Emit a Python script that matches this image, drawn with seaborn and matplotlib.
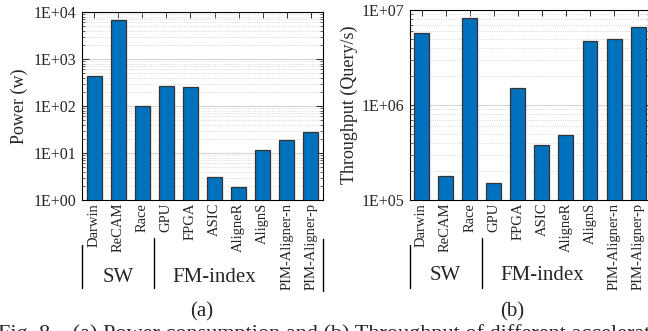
import matplotlib
matplotlib.use("Agg")
import matplotlib.pyplot as plt
import matplotlib.transforms as mtransforms
from matplotlib.ticker import FixedLocator, LogLocator, NullFormatter
import seaborn as sns
import pandas as pd

sns.set_style("white")
SERIF = ['Liberation Serif', 'DejaVu Serif']
plt.rcParams['font.family'] = SERIF

categories = ["Darwin", "ReCAM", "Race", "GPU", "FPGA", "ASIC", "AligneR",
              "AlignS", "PIM-Aligner-n", "PIM-Aligner-p"]
power_w = [441, 6600, 100, 266, 253, 3.1, 1.86, 11.4, 18.6, 28.3]
throughput_qps = [5.7e6, 1.79e5, 8.3e6, 1.52e5, 1.5e6, 3.8e5, 4.8e5, 4.68e6, 4.9e6, 6.7e6]
power_ticks = [1, 10, 100, 1000, 10000]
power_ticklabels = ["1E+00", "1E+01", "1E+02", "1E+03", "1E+04"]
tp_ticks = [1e5, 1e6, 1e7]
tp_ticklabels = ["1E+05", "1E+06", "1E+07"]
groups = ["SW", "FM-index"]
group_centers = [1, 5]
panel_labels = ["(a)", "(b)"]
caption = "Fig. 8.   (a) Power consumption and (b) Throughput of different accelerators"

W, H = 648, 331
fig = plt.figure(figsize=(W / 100, H / 100), dpi=100)

BAR = "#0072BD"

def px_axes(x0, y_top, w, y_bot):
    return fig.add_axes([x0 / W, 1 - y_bot / H, w / W, (y_bot - y_top) / H])

axL = px_axes(82, 12, 241, 200)
axR = px_axes(409.5, 10, 240.7, 200)

dfL = pd.DataFrame({"cat": categories, "val": power_w})
dfR = pd.DataFrame({"cat": categories, "val": throughput_qps})

def style(ax, df, ticks, ticklabels, ylim, ylabel, labx, lines):
    sns.barplot(data=df, x="cat", y="val", ax=ax, color=BAR, saturation=1,
                edgecolor="#333333", linewidth=0.9, width=0.62, zorder=3)
    ax.set_yscale("log")
    ax.set_ylim(*ylim)
    ax.set_xlim(-0.5, 9.5)
    ax.yaxis.set_major_locator(FixedLocator(ticks))
    ax.set_yticklabels(ticklabels, family=SERIF)
    ax.yaxis.set_minor_locator(LogLocator(base=10, subs=range(2, 10), numticks=20))
    ax.yaxis.set_minor_formatter(NullFormatter())
    ax.set_xticks(range(len(categories)))
    ax.set_xticklabels(categories, rotation=90, fontsize=10.5, family=SERIF)
    ax.set_xlabel("")
    ax.set_ylabel(ylabel, fontsize=13, family=SERIF)
    ax.yaxis.set_label_coords(labx, 0.5)
    ax.tick_params(axis="y", which="major", direction="in", length=5, width=0.7,
                   left=True, right=True, labelsize=11.5, pad=4)
    ax.tick_params(axis="y", which="minor", direction="in", length=2.5, width=0.5,
                   left=True, right=True)
    ax.tick_params(axis="x", which="major", direction="in", length=4, width=0.7,
                   bottom=True, top=True, pad=2)
    ax.grid(True, axis="y", which="major", color="#d4d4d4", linestyle="-", linewidth=0.8, zorder=0)
    ax.grid(True, axis="y", which="minor", color="#cccccc", linestyle=":", linewidth=0.6, zorder=0)
    ax.set_axisbelow(True)
    for s in ax.spines.values():
        s.set_visible(True)
        s.set_color("black")
        s.set_linewidth(0.8)
    trans = mtransforms.blended_transform_factory(ax.transData, ax.transAxes)
    for name, cx in zip(groups, group_centers):
        ax.text(cx, lines["label_y"], name, transform=trans, ha="center", va="center",
                fontsize=15, family=SERIF, clip_on=False)
    for xv, y0, y1 in lines["segs"]:
        ax.plot([xv, xv], [y0, y1], transform=trans, color="black", linewidth=1.0,
                clip_on=False)

style(axL, dfL, power_ticks, power_ticklabels, (1, 1e4), "Power (w)", -0.224,
      {"label_y": -0.41,
       "segs": [(-0.5, -0.239, -0.468), (2.5, -0.202, -0.468), (9.5, -0.207, -0.484)]})
style(axR, dfR, tp_ticks, tp_ticklabels, (1e5, 1e7), "Throughput (Query/s)", -0.214,
      {"label_y": -0.40,
       "segs": [(-0.5, -0.237, -0.463), (2.5, -0.2, -0.463), (9.5, -0.2, -0.48)]})

fig.text(202 / W, 1 - 312 / H, panel_labels[0], ha="center", va="center", fontsize=15, family=SERIF)
fig.text(512 / W, 1 - 312 / H, panel_labels[1], ha="center", va="center", fontsize=15, family=SERIF)
fig.text(-0.003, 1 - 324 / H, caption, ha="left", va="top", fontsize=16, family=SERIF)

fig.savefig("out.png", dpi=100)
